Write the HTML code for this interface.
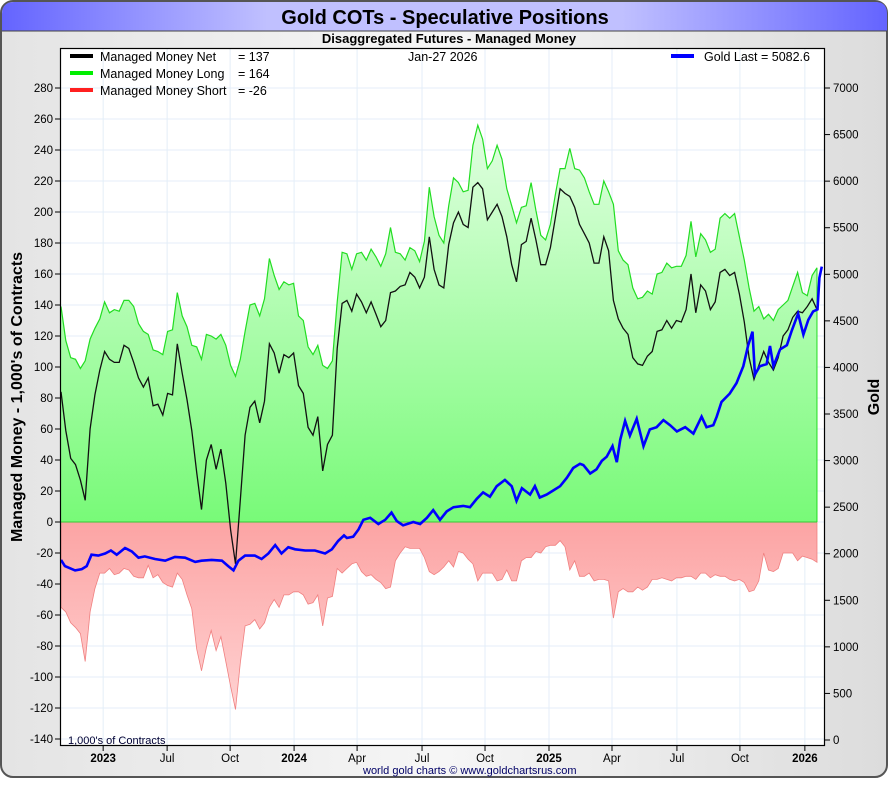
<!DOCTYPE html>
<html><head><meta charset="utf-8"><style>
body{margin:0;background:#fff;}
svg text{font-family:"Liberation Sans",sans-serif;}
</style></head><body>
<svg id="chart" width="890" height="780" viewBox="0 0 890 780" xmlns="http://www.w3.org/2000/svg">
<defs>
<linearGradient id="bgG" x1="0" y1="0" x2="1" y2="0"><stop offset="0" stop-color="#e4e4e4"/><stop offset="0.5" stop-color="#f6f6f6"/><stop offset="1" stop-color="#dcdcdc"/></linearGradient>
<linearGradient id="titleG" x1="0" y1="0" x2="1" y2="0"><stop offset="0" stop-color="#6464ff"/><stop offset="0.3" stop-color="#c0c0ff"/><stop offset="0.7" stop-color="#c0c0ff"/><stop offset="1" stop-color="#6464ff"/></linearGradient>
<linearGradient id="greenG" gradientUnits="userSpaceOnUse" x1="0" y1="120" x2="0" y2="522"><stop offset="0" stop-color="#e2ffe2"/><stop offset="1" stop-color="#78fa78"/></linearGradient>
<linearGradient id="redG" gradientUnits="userSpaceOnUse" x1="0" y1="522" x2="0" y2="720"><stop offset="0" stop-color="#fca4a4"/><stop offset="1" stop-color="#ffd4d4"/></linearGradient>
</defs>
<rect x="1" y="1" width="886" height="776" rx="12" fill="url(#bgG)" stroke="#555" stroke-width="2"/>
<path d="M2 31 V14 Q2 2 14 2 H876 Q887 2 887 14 V31 Z" fill="url(#titleG)"/>
<line x1="2" y1="31" x2="887" y2="31" stroke="#444" stroke-width="1"/>
<text x="445" y="24" text-anchor="middle" font-size="20" font-weight="bold" fill="#000">Gold COTs - Speculative Positions</text>
<text x="449" y="43" text-anchor="middle" font-size="13" font-weight="bold" fill="#000">Disaggregated Futures - Managed Money</text>
<rect x="60.5" y="48.5" width="764" height="697" fill="#fff"/>
<g id="grid"></g>
<g id="series"></g>
<rect x="60.5" y="48.5" width="764" height="697" fill="none" stroke="#000" stroke-width="1.2"/>
<g id="axes"></g>
<text transform="translate(22,397) rotate(-90)" text-anchor="middle" font-size="16" font-weight="bold">Managed Money - 1,000's of Contracts</text>
<text transform="translate(879,397) rotate(-90)" text-anchor="middle" font-size="16" font-weight="bold">Gold</text>
<g>
<line x1="70" y1="56" x2="93" y2="56" stroke="#000" stroke-width="4"/>
<text x="100" y="61" font-size="12.5">Managed Money Net</text>
<text x="238" y="61" font-size="12.5">= 137</text>
<line x1="70" y1="73" x2="93" y2="73" stroke="#00ee00" stroke-width="4"/>
<text x="100" y="78" font-size="12.5">Managed Money Long</text>
<text x="238" y="78" font-size="12.5">= 164</text>
<line x1="70" y1="90" x2="93" y2="90" stroke="#ff2020" stroke-width="4"/>
<text x="100" y="95" font-size="12.5">Managed Money Short</text>
<text x="238" y="95" font-size="12.5">= -26</text>
<text x="408" y="61" font-size="12.5">Jan-27  2026</text>
<line x1="671" y1="56" x2="694" y2="56" stroke="#0000ff" stroke-width="4"/>
<text x="704" y="61" font-size="12.5">Gold Last = 5082.6</text>
</g>
<text x="68" y="744" font-size="11" fill="#000033">1,000's of Contracts</text>
<text x="363" y="774" font-size="11" fill="#000066">world gold charts © www.goldchartsrus.com</text>
</svg>
<script>
// weekly COT data, week 0 = early Feb 2023
const netValues=[84,59,41,37,27,14,60,82,98,110,105,103,103,114,112,103,93,87,93,75,76,69,83,82,115,96,79,59,32,8,40,50,34,47,25,-5,-27,14,56,74,78,64,78,115,109,96,108,106,109,88,83,61,56,68,33,50,56,112,141,
143,136,147,142,135,142,134,126,130,148,149,152,153,161,158,151,158,184,163,153,151,179,193,200,192,190,216,219,215,195,200,205,197,184,166,155,179,181,196,182,166,166,177,196,215,212,210,203,192,
186,180,167,167,184,175,143,131,125,121,106,102,101,107,110,123,124,130,125,130,129,137,160,135,153,149,137,142,161,163,159,161,147,129,106,92,101,110,103,98,106,120,124,132,136,135,139,144,137];
const longValues=[139,117,106,105,99,104,118,125,131,142,135,137,136,143,143,139,128,123,121,111,110,108,123,124,148,133,126,114,113,105,121,120,118,121,114,101,94,105,123,140,141,133,144,170,159,150,155,153,154,133,130,113,108,114,101,99,104,142,174,
173,163,173,174,169,176,171,165,173,190,174,173,169,177,175,168,181,216,197,185,180,204,222,219,213,214,243,256,247,228,233,243,234,215,204,193,203,204,219,201,185,182,192,211,228,228,241,228,227,
222,213,205,205,220,213,205,175,169,166,151,144,145,149,147,160,161,167,164,165,165,172,194,171,186,182,174,176,196,199,196,199,184,169,151,136,139,131,134,130,137,140,143,152,161,148,146,159,164];
const shortValues=[-55,-58,-65,-68,-72,-90,-58,-43,-33,-33,-30,-34,-33,-30,-31,-35,-36,-36,-28,-36,-34,-39,-41,-42,-33,-37,-47,-56,-82,-96,-81,-70,-83,-74,-90,-106,-121,-91,-67,-66,-63,-69,-65,-55,-50,-55,-47,-47,-45,-45,-47,-53,-52,-47,-67,-49,-48,-30,-33,
-30,-27,-26,-32,-35,-34,-37,-39,-43,-42,-25,-20,-16,-17,-17,-17,-23,-32,-34,-32,-29,-25,-29,-19,-20,-24,-27,-38,-33,-33,-33,-38,-37,-31,-38,-38,-25,-23,-23,-19,-20,-16,-15,-15,-12,-16,-31,-25,-35,
-35,-33,-38,-37,-37,-38,-62,-45,-43,-45,-45,-42,-44,-42,-37,-37,-36,-37,-38,-36,-36,-35,-35,-37,-33,-33,-36,-34,-35,-35,-37,-38,-37,-39,-45,-44,-38,-20,-31,-32,-30,-20,-20,-20,-25,-22,-23,-24,-26];
const goldWeeks=[0,0.8,2.9,4.3,5.3,6.3,7.7,9.1,10.3,11.5,13.2,14.6,16,17.3,19.4,21.5,23.5,25.6,27.7,29,31.1,33.2,34.5,35.6,36.6,38,40,41.4,42.8,44.2,45.5,46.9,48.3,50.4,52.4,54.5,55.9,57.2,58.4,
59,60.3,61.4,62.4,63.8,65.5,66.9,68.2,69.3,70.6,72.7,74.1,75.5,76.8,78.2,79.6,81,83,84.4,85.8,87.1,88.5,89.9,91.6,93,94,95.1,96.8,97.8,98.8,100.2,101.6,103,104.4,105.7,107.1,
107.8,109.2,110.5,111.6,112.6,113.8,114.7,115.4,116.4,117.4,118.8,120.2,121.5,122.9,124.3,125.7,127.1,128.8,130.5,132.2,133.2,134.6,135.3,136.3,138,139.4,140.8,141.8,142.7,143.2,144.2,145.6,146.3,147,148.4,149.8,150.8,152.1,153.2,154.2,155.2,156.1,156.5,157];
const goldPrices=[1934,1867,1821,1835,1867,1989,1980,2002,2034,1989,2061,2025,1957,1971,1943,1925,1966,1957,1912,1925,1934,1925,1867,1821,1925,1980,1980,1943,2002,2093,2002,2070,2047,2034,2034,2002,2047,2138,2197,
2169,2183,2260,2364,2386,2319,2364,2441,2350,2305,2341,2319,2386,2468,2364,2454,2499,2513,2499,2590,2658,2612,2725,2793,2725,2567,2703,2635,2725,2603,2635,2680,2725,2816,2920,2965,
2951,2861,2906,2996,3042,3155,2983,3222,3426,3268,3448,3155,3335,3358,3435,3380,3313,3358,3290,3471,3358,3380,3471,3629,3719,3832,4013,4239,4384,3923,4013,4036,4230,4013,4194,4239,4397,4578,4352,4510,4600,4623,4962,5083];
const leftTicks=[280,260,240,220,200,180,160,140,120,100,80,60,40,20,0,-20,-40,-60,-80,-100,-120,-140];
const rightTicks=[7000,6500,6000,5500,5000,4500,4000,3500,3000,2500,2000,1500,1000,500,0];
const xTickWeeks=[8.7,21.9,34.9,48.1,61.1,74.5,87.5,100.7,113.7,127.1,140.1,153.5];
const xTickLabels=["2023","Jul","Oct","2024","Apr","Jul","Oct","2025","Apr","Jul","Oct","2026"];
const xTickBold=[true,false,false,true,false,false,false,true,false,false,false,true];

const X0=61,WK=4.846;
function xs(w){return X0+w*WK;}
function yl(v){return 522-v*1.55;}
function yr(p){return 740-p*652/7000;}
const NS="http://www.w3.org/2000/svg";
function mk(tag,attrs,parent){const e=document.createElementNS(NS,tag);for(const k in attrs)e.setAttribute(k,attrs[k]);parent.appendChild(e);return e;}
const grid=document.getElementById('grid'),series=document.getElementById('series'),axes=document.getElementById('axes');

leftTicks.forEach(v=>{
  const y=yl(v);
  const g=mk('line',{x1:61,x2:824,y1:y,y2:y,stroke:'#e4eef8','stroke-width':1},grid);
  
  
  mk('line',{x1:55,x2:61,y1:y,y2:y,stroke:'#000'},axes);
  const t=mk('text',{x:53,y:y+4,'text-anchor':'end','font-size':11.5},axes);
  
  
  t.textContent=v;
});
rightTicks.forEach(p=>{
  const y=yr(p);
  mk('line',{x1:824,x2:830,y1:y,y2:y,stroke:'#000'},axes);
  const t=mk('text',{x:833,y:y+4,'font-size':11.5},axes);
  
  
  t.textContent=p;
});
xTickWeeks.forEach((w,i)=>{
  const x=xs(w);
  const g=mk('line',{x1:x,x2:x,y1:49,y2:745,stroke:'#e4eef8','stroke-width':1},grid);
  
  
  mk('line',{x1:x,x2:x,y1:745,y2:751,stroke:'#000'},axes);
  const t=mk('text',{x:x,y:762,'text-anchor':'middle','font-size':11.5,'font-weight':xTickBold[i]?'bold':'normal'},axes);
  
  
  t.textContent=xTickLabels[i];
});

function linePts(vals,fy){return vals.map((v,i)=>xs(i).toFixed(1)+','+fy(v).toFixed(1)).join(' ');}
const n=longValues.length;
const longArea=mk('polygon',{points:xs(0)+','+yl(0)+' '+linePts(longValues,yl)+' '+xs(n-1)+','+yl(0),fill:'url(#greenG)'},series);


const shortArea=mk('polygon',{points:xs(0)+','+yl(0)+' '+linePts(shortValues,yl)+' '+xs(shortValues.length-1)+','+yl(0),fill:'url(#redG)',stroke:'#f08080','stroke-width':0.8},series);


const longLine=mk('polyline',{points:linePts(longValues,yl),fill:'none',stroke:'#22dd22','stroke-width':1.2},series);


mk('line',{x1:xs(n-1),x2:xs(n-1),y1:yl(longValues[n-1]),y2:yl(0),stroke:'#22dd22','stroke-width':1},series);
mk('line',{x1:61,x2:xs(n-1),y1:yl(0),y2:yl(0),stroke:'#33cc33','stroke-width':1},series);
const netLine=mk('polyline',{points:linePts(netValues,yl),fill:'none',stroke:'#111','stroke-width':1.3},series);


const gp=goldPrices.map((p,i)=>xs(goldWeeks[i]).toFixed(1)+','+yr(p).toFixed(1)).join(' ');
const goldLine=mk('polyline',{points:gp,fill:'none',stroke:'#0000ff','stroke-width':2.6,'stroke-linejoin':'miter'},series);


</script>
</body></html>
